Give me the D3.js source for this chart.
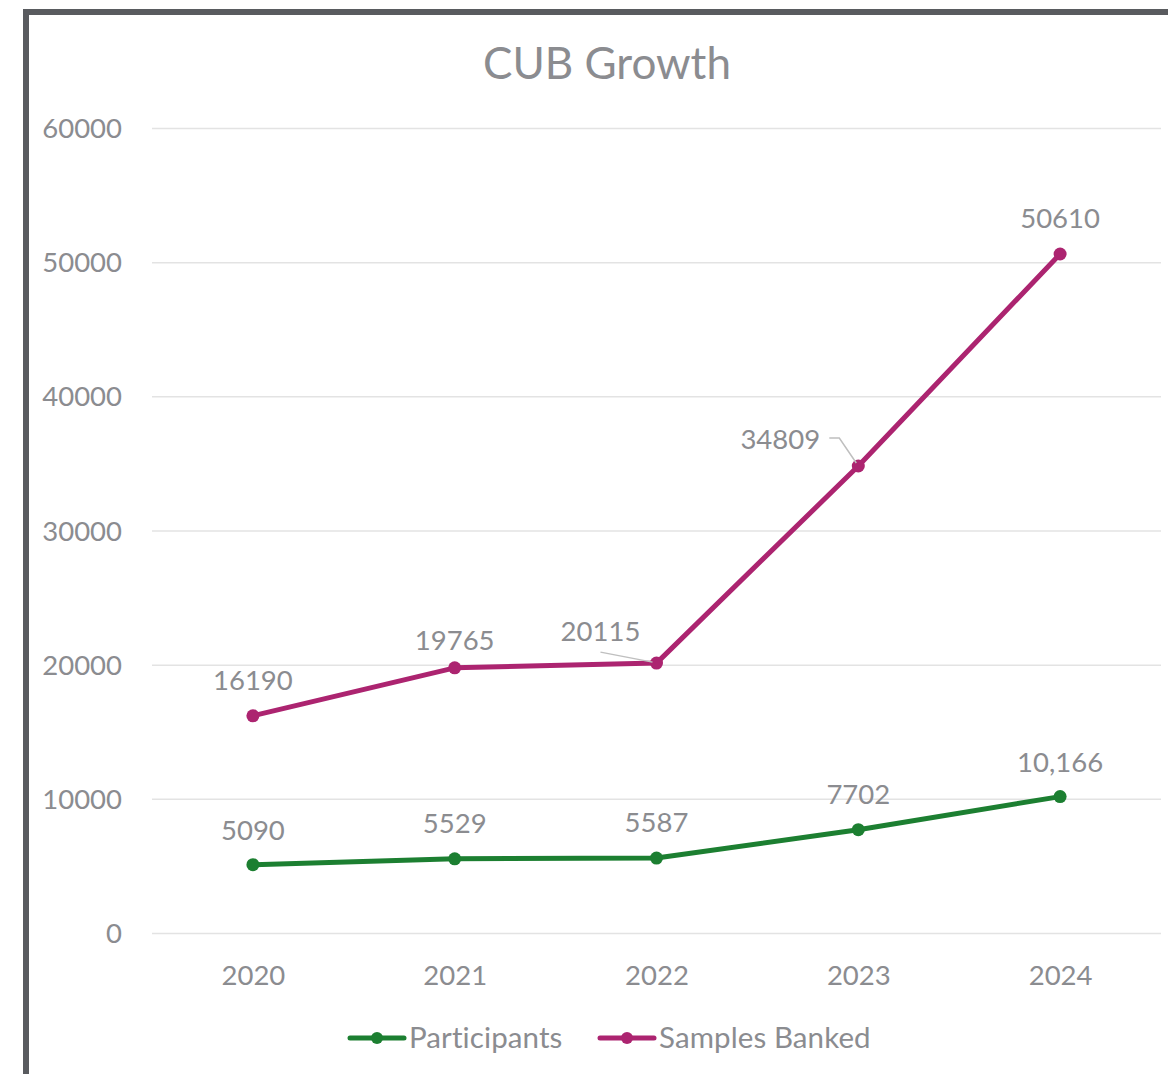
<!DOCTYPE html>
<html>
<head>
<meta charset="utf-8">
<script src="https://cdn.jsdelivr.net/npm/d3@7"></script>
<style>
  html, body { margin: 0; padding: 0; background: #fff; }
  svg { display: block; }
  text { font-family: Lato, "Open Sans", sans-serif; fill: #8b8c90; }
</style>
</head>
<body>
<svg id="chart" width="1168" height="1074"></svg>
<script>
// Yearly totals for the CUB programme
const years = ["2020", "2021", "2022", "2023", "2024"];
const participants = [5090, 5529, 5587, 7702, 10166];
const samplesBanked = [16190, 19765, 20115, 34809, 50610];
const participantLabels = ["5090", "5529", "5587", "7702", "10,166"];
const sampleLabels = ["16190", "19765", "20115", "34809", "50610"];
const yTicks = [0, 10000, 20000, 30000, 40000, 50000, 60000];

const svg = d3.select("#chart");
const W = 1168, H = 1074;
const numSize = 27.5;

// Frame around the chart area
svg.append("path")
  .attr("d", `M26,${H} L26,12 L${W},12`)
  .attr("fill", "none")
  .attr("stroke", "#595b5f")
  .attr("stroke-width", 6);

const x = d3.scalePoint().domain(years).range([152, 1161]).padding(0.5);
const y = d3.scaleLinear().domain([0, 60000]).range([933, 128]);

// Title
svg.append("text")
  .attr("x", 607).attr("y", 79)
  .attr("text-anchor", "middle")
  .attr("font-size", 44)
  .text("CUB Growth");

// Horizontal gridlines and value axis labels
const yAxis = d3.axisLeft(y).tickValues(yTicks).tickSize(-(1161 - 152)).tickPadding(30).tickFormat(d3.format("d"));
const gy = svg.append("g").attr("transform", "translate(152,0)").call(yAxis);
gy.select(".domain").remove();
gy.selectAll(".tick line").attr("stroke", "#e3e3e3").attr("stroke-width", 1.5);
gy.selectAll(".tick text").attr("font-size", numSize).attr("fill", "#8b8c90").attr("dy", "0.35em");

// Year labels
const xAxis = d3.axisBottom(x).tickSize(0).tickPadding(32);
const gx = svg.append("g").attr("transform", "translate(0,933)").call(xAxis);
gx.select(".domain").remove();
gx.selectAll(".tick text").attr("font-size", numSize).attr("fill", "#8b8c90");

const series = [
  { name: "Participants", values: participants, labels: participantLabels, color: "#1c7f31" },
  { name: "Samples Banked", values: samplesBanked, labels: sampleLabels, color: "#ac2470" }
];

const line = d3.line().x((d, i) => x(years[i])).y(d => y(d));

series.forEach(s => {
  svg.append("path")
    .datum(s.values)
    .attr("d", line)
    .attr("fill", "none")
    .attr("stroke", s.color)
    .attr("stroke-width", 5)
    .attr("stroke-linejoin", "round")
    .attr("stroke-linecap", "round");
  svg.append("g").selectAll("circle")
    .data(s.values)
    .join("circle")
    .attr("cx", (d, i) => x(years[i]))
    .attr("cy", d => y(d))
    .attr("r", 6.5)
    .attr("fill", s.color);
});

// Data labels; a few sit offset with a leader line back to the point
const labelOffsets = {
  "Samples Banked": [[0, -26], [0, -18], [-56, -22], [-78, -17], [0, -26]],
  "Participants": [[0, -25], [0, -26], [0, -26], [0, -26], [0, -25]]
};
series.forEach(s => {
  s.values.forEach((v, i) => {
    const px = x(years[i]), py = y(v);
    const [dx, dy] = labelOffsets[s.name][i];
    svg.append("text")
      .attr("x", px + dx).attr("y", py + dy)
      .attr("text-anchor", "middle")
      .attr("font-size", numSize)
      .text(s.labels[i]);
  });
});

// Leader lines for the shifted labels
const lead2022 = [[x("2022") - 56, y(20115) - 11], [x("2022") - 4, y(20115) - 1]];
svg.append("path")
  .attr("d", d3.line()(lead2022))
  .attr("fill", "none").attr("stroke", "#bfbfbf").attr("stroke-width", 1.5);
const lead2023 = [[x("2023") - 29, y(34809) - 28], [x("2023") - 19, y(34809) - 28], [x("2023") - 2, y(34809) - 3]];
svg.append("path")
  .attr("d", d3.line()(lead2023))
  .attr("fill", "none").attr("stroke", "#bfbfbf").attr("stroke-width", 1.5);

// Legend
const legend = svg.append("g").attr("transform", "translate(0,1038)");
const legendX = [350, 600];
series.forEach((s, i) => {
  const g = legend.append("g").attr("transform", `translate(${legendX[i]},0)`);
  g.append("line").attr("x1", 0).attr("x2", 54).attr("y1", 0).attr("y2", 0)
    .attr("stroke", s.color).attr("stroke-width", 5).attr("stroke-linecap", "round");
  g.append("circle").attr("cx", 27).attr("cy", 0).attr("r", 6).attr("fill", s.color);
  g.append("text").attr("x", 59).attr("y", 0).attr("dy", "0.35em")
    .attr("font-size", 29.5).attr("letter-spacing", 0.1).text(s.name);
});
</script>
</body>
</html>
